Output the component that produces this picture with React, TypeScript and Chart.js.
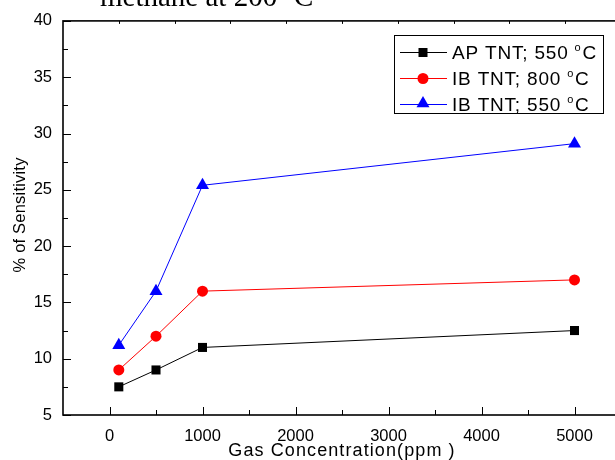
import React, { useEffect, useRef } from "react";
import { Chart, registerables } from "chart.js";

Chart.register(...registerables);

// ---- data ----
const concentrations = [100, 500, 1000, 5000];
const apTnt550 = [7.5, 9, 11, 12.5];
const ibTnt800 = [9, 12, 16, 17];
const ibTnt550 = [11.2, 16, 25.4, 29.1];
const seriesNames = ["AP TNT; 550 ", "IB TNT; 800 ", "IB TNT; 550 "];
const seriesColors = ["#000000", "#ff0000", "#0000ff"];
const seriesShapes = ["rect", "circle", "triangle"];
const xTickValues = [0, 1000, 2000, 3000, 4000, 5000];
const yTickValues = [5, 10, 15, 20, 25, 30, 35, 40];
const titleText = "methane at 200 ";
const xAxisTitle = "Gas Concentration(ppm )";
const yAxisTitle = "% of Sensitivity";

const SANS = '"Liberation Sans", Arial, sans-serif';
const SERIF = '"Liberation Serif", "Times New Roman", serif';

function drawDegreeLabel(ctx: CanvasRenderingContext2D, x: number, y: number, text: string, size: number, small: number, spacing: number, family: string) {
  ctx.save();
  ctx.textAlign = "left";
  ctx.textBaseline = "alphabetic";
  (ctx as any).letterSpacing = spacing + "px";
  ctx.font = `${size}px ${family}`;
  ctx.fillText(text, x, y);
  let w = ctx.measureText(text).width;
  ctx.font = `${small}px ${family}`;
  ctx.fillText("o", x + w, y - size * 0.42);
  w += ctx.measureText("o").width + 1;
  ctx.font = `${size}px ${family}`;
  ctx.fillText("C", x + w, y);
  ctx.restore();
}

function drawMarker(ctx: CanvasRenderingContext2D, shape: string, x: number, y: number, color: string) {
  ctx.save();
  ctx.fillStyle = color;
  ctx.beginPath();
  if (shape === "rect") {
    ctx.rect(x - 4.5, y - 4.5, 9, 9);
  } else if (shape === "circle") {
    ctx.arc(x, y, 5.5, 0, Math.PI * 2);
  } else {
    const r = 7.5;
    ctx.moveTo(x, y - r);
    ctx.lineTo(x + r * Math.sin(Math.PI / 3), y + r / 2);
    ctx.lineTo(x - r * Math.sin(Math.PI / 3), y + r / 2);
    ctx.closePath();
  }
  ctx.fill();
  ctx.restore();
}

const framePlugin = {
  id: "frame",
  beforeDatasetsDraw(chart: any) {
    const { ctx, chartArea: a, scales } = chart;
    const xs = scales.x;
    const ys = scales.y;
    ctx.save();
    ctx.strokeStyle = "#000";
    ctx.lineWidth = 1;
    for (let v = 5; v <= 40; v += 2.5) {
      const py = Math.round(ys.getPixelForValue(v)) + 0.5;
      const len = v % 5 === 0 ? 8 : 5;
      ctx.beginPath();
      ctx.moveTo(a.left, py);
      ctx.lineTo(a.left + len, py);
      ctx.stroke();
    }
    for (let v = 0; v <= 5000; v += 500) {
      const px = Math.round(xs.getPixelForValue(v)) + 0.5;
      const len = v % 1000 === 0 ? 8 : 5;
      ctx.beginPath();
      ctx.moveTo(px, a.bottom);
      ctx.lineTo(px, a.bottom - len);
      ctx.stroke();
    }
    for (let v = -500 + 600; v < 5500; v += 600) {
      const px = Math.round(xs.getPixelForValue(v)) + 0.5;
      ctx.beginPath();
      ctx.moveTo(px, a.top);
      ctx.lineTo(px, a.top + 3);
      ctx.stroke();
    }
    ctx.lineWidth = 1.6;
    ctx.strokeRect(a.left, a.top, a.right - a.left, a.bottom - a.top);
    ctx.restore();
  },
  afterDraw(chart: any) {
    const { ctx, chartArea: a } = chart;
    ctx.save();
    ctx.fillStyle = "#000";
    drawDegreeLabel(ctx, 100, 6, titleText, 29, 17, 0, SERIF);
    ctx.font = `18px ${SANS}`;
    (ctx as any).letterSpacing = "1.1px";
    ctx.textAlign = "center";
    ctx.textBaseline = "alphabetic";
    ctx.fillText(xAxisTitle, (a.left + a.right) / 2, 456);
    ctx.save();
    ctx.translate(20, (a.top + a.bottom) / 2 - 3);
    ctx.rotate(-Math.PI / 2);
    ctx.font = `16.5px ${SANS}`;
    (ctx as any).letterSpacing = "0.2px";
    ctx.textAlign = "center";
    ctx.textBaseline = "middle";
    ctx.fillText(yAxisTitle, 0, 0);
    ctx.restore();
    (ctx as any).letterSpacing = "0px";
    const bx = 394, by = 35, bw = 209, bh = 78;
    ctx.fillStyle = "#fff";
    ctx.fillRect(bx, by, bw, bh);
    ctx.strokeStyle = "#000";
    ctx.lineWidth = 1;
    ctx.strokeRect(bx + 0.5, by + 0.5, bw, bh);
    const rowsY = [52.5, 78.5, 104.5];
    for (let i = 0; i < seriesNames.length; i++) {
      const cy = rowsY[i];
      ctx.strokeStyle = seriesColors[i];
      ctx.lineWidth = 1;
      ctx.beginPath();
      ctx.moveTo(400, cy);
      ctx.lineTo(447, cy);
      ctx.stroke();
      drawMarker(ctx, seriesShapes[i], 423, seriesShapes[i] === "triangle" ? cy - 1 : cy, seriesColors[i]);
      ctx.fillStyle = "#000";
      drawDegreeLabel(ctx, 452, cy + 6.5, seriesNames[i], 19, 11, 0.8, SANS);
    }
    ctx.restore();
  },
};

export default function App() {
  const canvasRef = useRef<HTMLCanvasElement | null>(null);

  useEffect(() => {
    if (!canvasRef.current) return;
    const seriesValues = [apTnt550, ibTnt800, ibTnt550];
    const radii = [6.4, 5.5, 7.5];
    const chart = new Chart(canvasRef.current, {
      type: "line",
      data: {
        datasets: seriesValues.map((vals, i) => ({
          label: seriesNames[i],
          data: concentrations.map((x, j) => ({ x, y: vals[j] })),
          borderColor: seriesColors[i],
          backgroundColor: seriesColors[i],
          borderWidth: 1,
          pointStyle: seriesShapes[i] as any,
          pointRadius: radii[i],
          pointBorderWidth: 0,
          pointBackgroundColor: seriesColors[i],
          tension: 0,
          fill: false,
        })),
      },
      options: {
        animation: false,
        responsive: false,
        devicePixelRatio: 1,
        layout: { padding: { left: 0, top: 19, right: 19, bottom: 0 } },
        plugins: {
          legend: { display: false },
          tooltip: { enabled: false },
          title: { display: false },
        },
        scales: {
          x: {
            type: "linear",
            min: -500,
            max: 5500,
            afterBuildTicks: (s: any) => {
              s.ticks = xTickValues.map((v) => ({ value: v }));
            },
            afterFit: (s: any) => {
              s.height = 45;
            },
            grid: { display: false, drawTicks: false },
            border: { display: false },
            ticks: {
              autoSkip: false,
              maxRotation: 0,
              padding: 12,
              color: "#000",
              font: { family: SANS, size: 16.5 },
              callback: (v: any) => String(v),
            },
          },
          y: {
            type: "linear",
            min: 5,
            max: 40,
            afterBuildTicks: (s: any) => {
              s.ticks = yTickValues.map((v) => ({ value: v }));
            },
            afterFit: (s: any) => {
              s.width = 63;
            },
            grid: { display: false, drawTicks: false },
            border: { display: false },
            ticks: {
              autoSkip: false,
              padding: 11,
              color: "#000",
              font: { family: SANS, size: 16.5 },
              callback: (v: any) => String(v),
            },
          },
        },
      },
      plugins: [framePlugin],
    });
    return () => chart.destroy();
  }, []);

  return (
    <div
      style={{
        position: "fixed",
        left: 0,
        top: 0,
        width: 615,
        height: 460,
        overflow: "hidden",
        background: "#fff",
      }}
    >
      <canvas ref={canvasRef} width={640} height={460} style={{ width: 640, height: 460, display: "block" }} />
    </div>
  );
}
